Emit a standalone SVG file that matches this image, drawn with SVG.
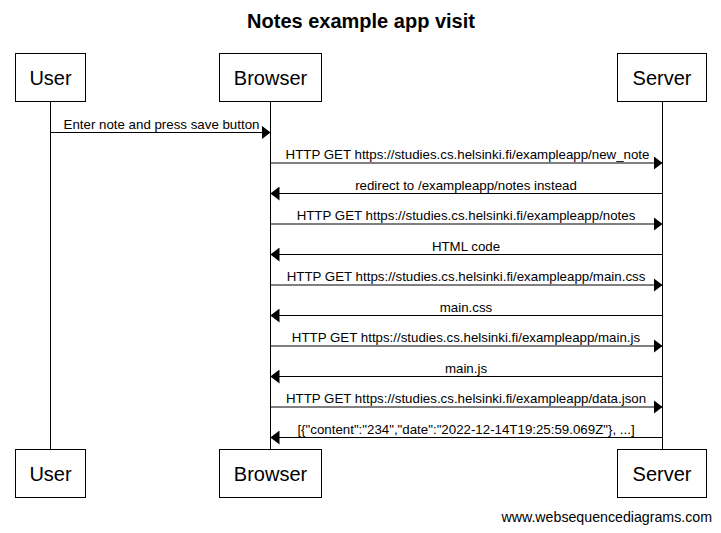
<svg xmlns="http://www.w3.org/2000/svg" width="721" height="533" viewBox="0 0 721 533">
<style>
.box{fill:#fff;stroke:#000;stroke-width:1}
.life{stroke:#000;stroke-width:1}
.msg{stroke:#000;stroke-width:1;fill:none}
.pl{font-family:"Liberation Sans",Arial,sans-serif;font-size:20px;text-anchor:middle;fill:#000}
.ml{font-family:"Liberation Sans",Arial,sans-serif;font-size:13.3px;text-anchor:middle;fill:#000}
.title{font-family:"Liberation Sans",Arial,sans-serif;font-size:20px;font-weight:bold;text-anchor:middle;fill:#000}
.wm{font-family:"Liberation Sans",Arial,sans-serif;font-size:14.2px;text-anchor:end;fill:#000}
</style>
<defs>
<marker id="ah" viewBox="0 0 9 14" refX="9" refY="7" markerWidth="9" markerHeight="14" markerUnits="userSpaceOnUse" orient="auto">
<path d="M0,0 L9,7 L0,14 Z" fill="#000"/>
</marker>
</defs>
<rect width="721" height="533" fill="#fff"/>
<text class="title" x="361" y="28">Notes example app visit</text>
<g id="lifelines">
<line class="life" x1="50.5" y1="102" x2="50.5" y2="449"/>
<line class="life" x1="270.5" y1="102" x2="270.5" y2="449"/>
<line class="life" x1="662.5" y1="102" x2="662.5" y2="449"/>
</g>
<g id="user">
<rect class="box" x="15.5" y="53.5" width="70" height="48"/>
<text class="pl" x="50.5" y="85">User</text>
<rect class="box" x="15.5" y="449.5" width="70" height="48"/>
<text class="pl" x="50.5" y="481">User</text>
</g>
<g id="browser">
<rect class="box" x="219.5" y="53.5" width="102" height="48"/>
<text class="pl" x="270.5" y="85">Browser</text>
<rect class="box" x="219.5" y="449.5" width="102" height="48"/>
<text class="pl" x="270.5" y="481">Browser</text>
</g>
<g id="server">
<rect class="box" x="617.5" y="53.5" width="89" height="48"/>
<text class="pl" x="662" y="85">Server</text>
<rect class="box" x="617.5" y="449.5" width="89" height="48"/>
<text class="pl" x="662" y="481">Server</text>
</g>
<g id="connectors">
<line class="msg" x1="50.5" y1="132.5" x2="270.5" y2="132.5" marker-end="url(#ah)"/>
<text class="ml" x="161.5" y="129">Enter note and press save button</text>
<line class="msg" x1="270.5" y1="163" x2="662.5" y2="163" marker-end="url(#ah)"/>
<text class="ml" x="467.5" y="159">HTTP GET https://studies.cs.helsinki.fi/exampleapp/new_note</text>
<line class="msg" x1="662.5" y1="193.5" x2="270.5" y2="193.5" marker-end="url(#ah)"/>
<text class="ml" x="466" y="189.5">redirect to /exampleapp/notes instead</text>
<line class="msg" x1="270.5" y1="224" x2="662.5" y2="224" marker-end="url(#ah)"/>
<text class="ml" x="466" y="220">HTTP GET https://studies.cs.helsinki.fi/exampleapp/notes</text>
<line class="msg" x1="662.5" y1="254.5" x2="270.5" y2="254.5" marker-end="url(#ah)"/>
<text class="ml" x="466" y="250.5">HTML code</text>
<line class="msg" x1="270.5" y1="285" x2="662.5" y2="285" marker-end="url(#ah)"/>
<text class="ml" x="466" y="281">HTTP GET https://studies.cs.helsinki.fi/exampleapp/main.css</text>
<line class="msg" x1="662.5" y1="315.5" x2="270.5" y2="315.5" marker-end="url(#ah)"/>
<text class="ml" x="466" y="311.5">main.css</text>
<line class="msg" x1="270.5" y1="346" x2="662.5" y2="346" marker-end="url(#ah)"/>
<text class="ml" x="466" y="342">HTTP GET https://studies.cs.helsinki.fi/exampleapp/main.js</text>
<line class="msg" x1="662.5" y1="376.5" x2="270.5" y2="376.5" marker-end="url(#ah)"/>
<text class="ml" x="466" y="372.5">main.js</text>
<line class="msg" x1="270.5" y1="407" x2="662.5" y2="407" marker-end="url(#ah)"/>
<text class="ml" x="466" y="403">HTTP GET https://studies.cs.helsinki.fi/exampleapp/data.json</text>
<line class="msg" x1="662.5" y1="437.5" x2="270.5" y2="437.5" marker-end="url(#ah)"/>
<text class="ml" x="466" y="433.5">[{"content":"234","date":"2022-12-14T19:25:59.069Z"}, ...]</text>
</g>
<text class="wm" x="712" y="522">www.websequencediagrams.com</text>
</svg>
